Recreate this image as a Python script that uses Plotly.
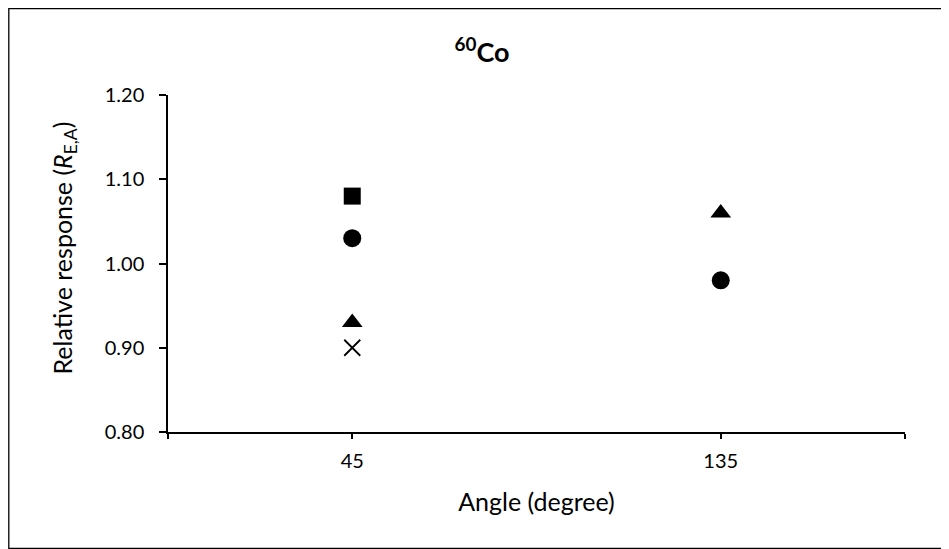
import plotly.graph_objects as go

angles = ["45", "135"]
xpos = [0.5, 1.5]
square_vals = [1.08, None]
circle_vals = [1.03, 0.98]
triangle_vals = [0.93, 1.06]
cross_vals = [0.90, None]

font = "Lato"
fig = go.Figure()
for vals, sym, sz in [(square_vals, "square", 17), (circle_vals, "circle", 18),
                      (triangle_vals, "triangle-up", 18), (cross_vals, "x-thin", 16)]:
    fig.add_trace(go.Scatter(
        x=xpos, y=vals, mode="markers",
        marker=dict(symbol=sym, size=sz, color="black",
                    line=dict(color="black", width=1.8 if sym == "x-thin" else 0)),
        showlegend=False))

# figure is placed at page offset (8, 8) by the default body margin
W, H = 941, 541
L, R, T, B = 160, 44, 87, 117
pw, ph = W - L - R, H - T - B

def px2x(p):
    return (p - L) / pw

def py2y(p):
    return (H - B - p) / ph

fig.update_layout(
    width=W, height=H,
    margin=dict(l=L, r=R, t=T, b=B),
    paper_bgcolor="white", plot_bgcolor="white",
    font=dict(family=font, size=21, color="black"),
    title=dict(text="<b><sup>60</sup>Co</b>", x=474 / W, xanchor="center",
               y=1 - 45 / H, yanchor="middle", font=dict(size=27, family=font)),
    xaxis=dict(range=[0, 2], tickvals=[0.5, 1.5], ticktext=angles,
               ticks="outside", ticklen=5, tickcolor="black", tickwidth=1.5,
               ticklabelstandoff=5,
               minor=dict(tickmode="array", tickvals=[0, 2], ticks="outside", ticklen=5,
                          tickcolor="black", tickwidth=1.5, showgrid=False),
               showline=True, linecolor="black", linewidth=1.5, showgrid=False,
               zeroline=False,
               title=dict(text="Angle (degree)", standoff=23),
               tickfont=dict(family=font, size=20, color="black")),
    yaxis=dict(range=[0.8, 1.2], tickvals=[0.8, 0.9, 1.0, 1.1, 1.2],
               ticktext=["0.80", "0.90", "1.00", "1.10", "1.20"],
               ticks="outside", ticklen=7, tickcolor="black", tickwidth=1.5,
               ticklabelstandoff=11,
               showline=True, linecolor="black", linewidth=1.5, showgrid=False,
               zeroline=False,
               tickfont=dict(family=font, size=20, color="black")),
    annotations=[dict(text="Relative response (<i>R</i><sub>E,A</sub>)",
                      xref="paper", yref="paper", x=px2x(55), y=py2y(240.5),
                      xanchor="center", yanchor="middle", textangle=-90, showarrow=False,
                      font=dict(family=font, size=25, color="black"))],
    shapes=[dict(type="rect", xref="paper", yref="paper",
                 x0=px2x(0.8), x1=px2x(939.5), y0=py2y(540.5), y1=py2y(0.5),
                 line=dict(color="black", width=1.3), fillcolor="rgba(0,0,0,0)",
                 layer="below")],
)

fig.write_html("out.html")
